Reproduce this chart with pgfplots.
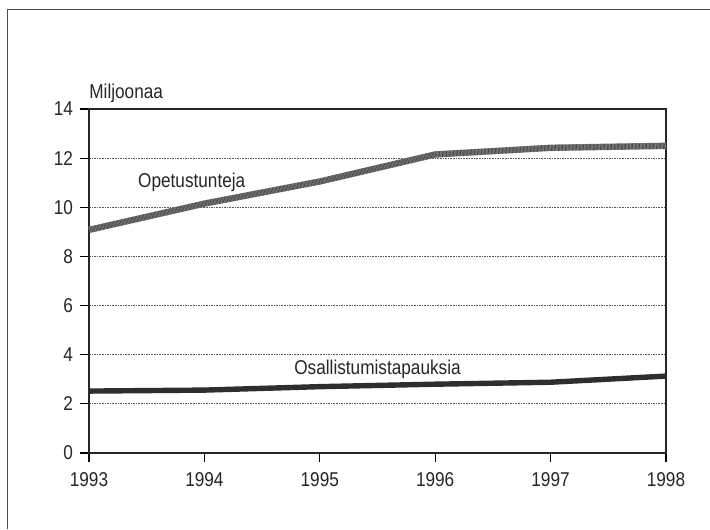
\documentclass[border=0pt]{standalone}
\usepackage{pgfplots}
\pgfplotsset{compat=1.18}
\usepackage{fontspec}
\setmainfont{Liberation Sans}[FakeStretch=0.86]
\newcommand{\chartfont}{\fontsize{10}{12}\selectfont}

\begin{document}
\begin{tikzpicture}
% page = 710x529 px at 0.5pt per px
\path[use as bounding box] (0,0) rectangle (355pt,264.5pt);
\draw[black!70, line width=0.5pt] (3.5pt,0) -- (3.5pt,259.5pt) -- (355pt,259.5pt);
\begin{axis}[
    at={(44.5pt,38pt)}, anchor=south west,
    scale only axis,
    width=288.5pt, height=172pt,
    xmin=1993, xmax=1998,
    ymin=0, ymax=14,
    xtick={1993,...,1998},
    ytick={0,2,...,14},
    xticklabel style={/pgf/number format/1000 sep={}, yshift=-1.5pt},
    /pgf/number format/assume math mode=true,
    tick label style={font=\chartfont, text=black!85},
    tick align=outside,
    major tick length=4.5pt,
    tick style={black, line width=0.6pt},
    xtick pos=bottom, ytick pos=left,
    axis line style={black!85, line width=0.8pt},
    ymajorgrids,
    grid style={black!65, line width=0.5pt, dash pattern=on 0.8pt off 0.5pt},
    clip=false,
]
\addplot[line width=3.2pt, color=black!45,
    postaction={draw, black!72, line width=3pt, dash pattern=on 0.35pt off 0.35pt}]
  coordinates {(1993,9.08) (1994,10.15) (1995,11.05) (1996,12.15) (1997,12.42) (1998,12.5)};
\addplot[line width=2.7pt, color=black!82]
  coordinates {(1993,2.52) (1994,2.56) (1995,2.7) (1996,2.8) (1997,2.88) (1998,3.13)};
\node[font=\chartfont, text=black!85] at (axis cs:1993.89,11.03) {Opetustunteja};
\node[font=\chartfont, text=black!85] at (axis cs:1995.5,3.42) {Osallistumistapauksia};
\node[font=\chartfont, text=black!85, anchor=base west, inner sep=0pt] at ([yshift=5pt]rel axis cs:0,1) {Miljoonaa};
\end{axis}
\end{tikzpicture}
\end{document}
